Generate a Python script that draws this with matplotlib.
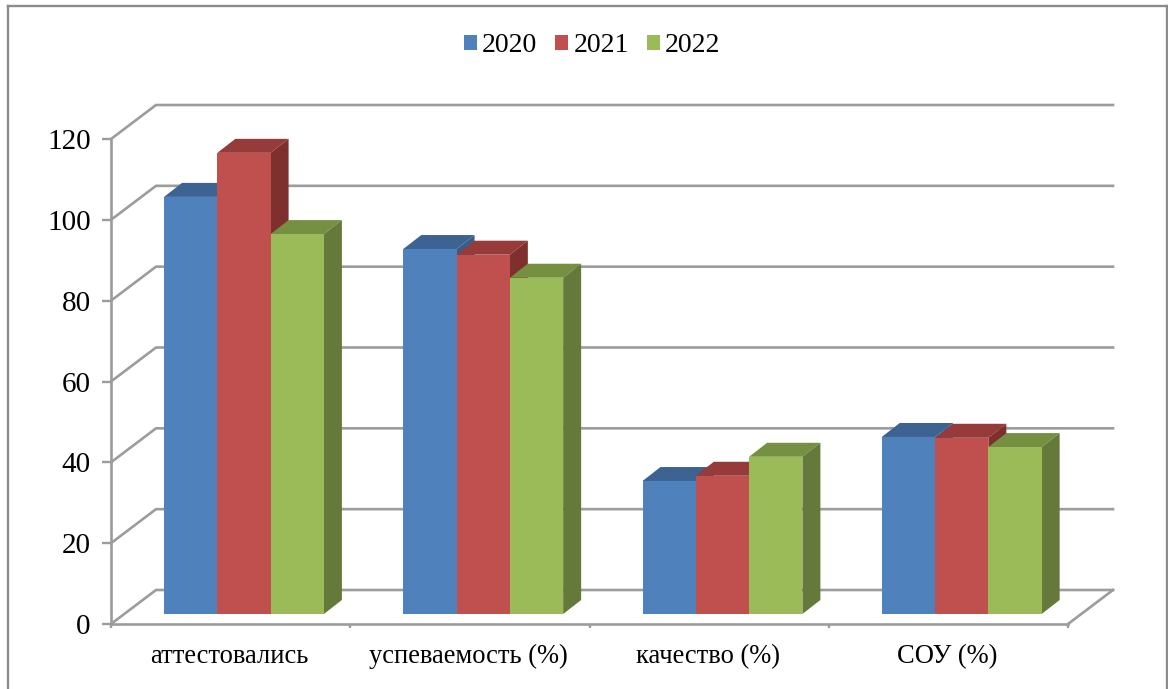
import matplotlib
matplotlib.use('Agg')
import matplotlib.pyplot as plt
from matplotlib.lines import Line2D
from matplotlib.patches import Polygon

plt.rcParams['font.family'] = ['Liberation Serif', 'DejaVu Serif']

categories = ['аттестовались', 'успеваемость (%)', 'качество (%)', 'СОУ (%)']
years = ['2020', '2021', '2022']
values_2020 = [103.2, 90.3, 32.9, 43.8]
values_2021 = [114.1, 88.9, 34.2, 43.6]
values_2022 = [94.0, 83.2, 38.9, 41.3]
y_ticks = [0, 20, 40, 60, 80, 100, 120]

front_colors = ['#4F81BD', '#C0504D', '#9BBB59']
top_colors = ['#3C6391', '#963B39', '#769041']
side_colors = ['#385D8A', '#7D302E', '#65793B']
grid_color = '#9C9C9C'

W, H = 1168, 689
fig = plt.figure(figsize=(W / 100, H / 100), dpi=100)
ax = fig.add_axes([111 / W, (H - 624) / H, (1068 - 111) / W, (624 - 139) / H])
ax.set_xlim(0, len(categories))
ax.set_ylim(0, 120)
ax.patch.set_visible(False)

# pixel sizes in data units, the fake 3d is built with these
px_x = len(categories) / (1068 - 111)
px_y = 120 / (624 - 139)
wall_dx, wall_dy = 45 * px_x, 34 * px_y
bar_dx, bar_dy = 18 * px_x, 14 * px_y
lift = 10 * px_y
bar_w = 53.3 * px_x
bar_start = 53 * px_x

# back wall and floor
for v in y_ticks:
    ax.plot([0, wall_dx, len(categories) + wall_dx], [v, v + wall_dy, v + wall_dy],
            color=grid_color, lw=1.9, clip_on=False, zorder=1, solid_joinstyle='miter')
ax.plot([len(categories), len(categories) + wall_dx], [0, wall_dy],
        color=grid_color, lw=1.9, clip_on=False, zorder=1)

series = [values_2020, values_2021, values_2022]
z = 2
for i in range(len(categories)):
    for s, vals in enumerate(series):
        x0 = i + bar_start + s * bar_w
        top = lift + vals[i]
        x1 = x0 + bar_w
        ax.add_patch(Polygon([(x0, top), (x1, top), (x1 + bar_dx, top + bar_dy), (x0 + bar_dx, top + bar_dy)],
                             closed=True, fc=top_colors[s], ec='none', clip_on=False, zorder=z))
        ax.add_patch(Polygon([(x1, lift), (x1 + bar_dx, lift + bar_dy), (x1 + bar_dx, top + bar_dy), (x1, top)],
                             closed=True, fc=side_colors[s], ec='none', clip_on=False, zorder=z))
        ax.bar(x0, vals[i], bar_w, bottom=lift, align='edge', color=front_colors[s],
               label=years[s] if i == 0 else None, zorder=z + 0.5, clip_on=False)
        z += 1

for name in ['top', 'right']:
    ax.spines[name].set_visible(False)
for name in ['left', 'bottom']:
    ax.spines[name].set_color(grid_color)
    ax.spines[name].set_linewidth(1.9)
    ax.spines[name].set_zorder(1)

ax.set_yticks(y_ticks)
ax.set_xticks(range(len(categories) + 1))
ax.set_xticklabels([])
ax.tick_params(axis='y', length=6.5, width=1.7, color=grid_color, labelsize=21, pad=8)
ax.tick_params(axis='x', length=3, width=1.7, color=grid_color)
for i, name in enumerate(categories):
    ax.annotate(name, (i + 0.495, 0), xytext=(0, -39), xycoords='data', textcoords='offset pixels',
                ha='center', va='baseline', fontsize=19.1, color='black', annotation_clip=False)

fig.legend(*ax.get_legend_handles_labels(), loc='center', bbox_to_anchor=(592 / W, 1 - 46 / H),
           ncol=3, frameon=False, fontsize=20, handlelength=0.47, handleheight=0.47,
           handletextpad=0.18, columnspacing=0.65)

# outer chart border, bottom edge is cut off in the picture
for xs, ys in [([8, 8], [689, 6]), ([8, 1167], [6, 6]), ([1167, 1167], [6, 689])]:
    fig.add_artist(Line2D([x / W for x in xs], [1 - y / H for y in ys], color='#8C8C8C', lw=1.7))

fig.savefig('out.png', dpi=100)
